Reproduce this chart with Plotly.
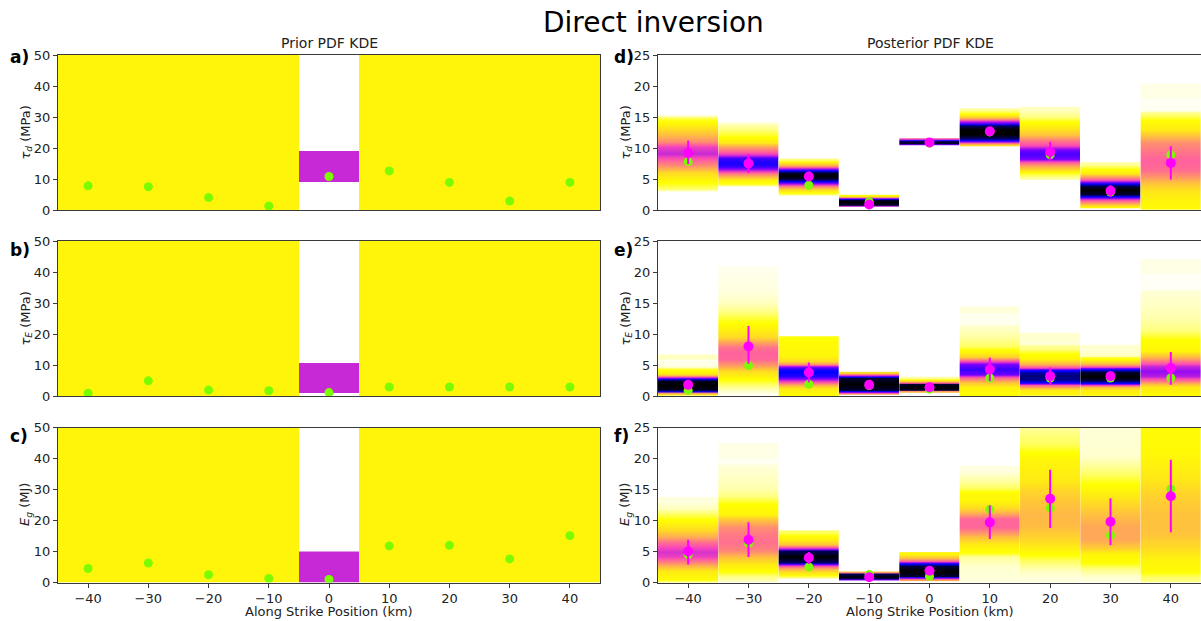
import numpy as np
import plotly.graph_objects as go

# ---------------- data ----------------
positions = [-40, -30, -20, -10, 0, 10, 20, 30, 40]
x_tick_vals = [-40, -30, -20, -10, 0, 10, 20, 30, 40]
left_y_ticks = [0, 10, 20, 30, 40, 50]
right_y_ticks = [0, 5, 10, 15, 20, 25]

# true values (green)
tau_d_true = [7.8, 7.5, 4.0, 1.3, 10.8, 12.6, 8.9, 2.9, 8.9]
tau_E_true = [0.9, 4.9, 1.9, 1.7, 1.1, 2.9, 2.9, 2.9, 2.9]
E_g_true = [4.5, 6.3, 2.5, 1.3, 1.0, 11.8, 12.0, 7.6, 15.1]

# posterior estimates (magenta) and their intervals
tau_d_est = [9.2, 7.5, 5.4, 0.9, 10.9, 12.7, 9.35, 3.1, 7.6]
tau_d_lo = [7.4, 6.0, 4.8, 0.7, 10.7, 12.1, 7.9, 2.1, 4.9]
tau_d_hi = [11.2, 9.0, 6.2, 1.1, 11.1, 13.3, 11.0, 4.0, 10.3]

tau_E_est = [1.8, 8.0, 3.8, 1.8, 1.4, 4.3, 3.2, 3.2, 4.5]
tau_E_lo = [1.4, 5.2, 2.2, 1.6, 1.2, 2.4, 1.8, 2.4, 1.8]
tau_E_hi = [2.2, 11.3, 5.4, 2.0, 1.6, 6.2, 4.6, 4.0, 7.1]

E_g_est = [5.0, 6.9, 4.0, 0.85, 1.9, 9.7, 13.5, 9.8, 13.9]
E_g_lo = [2.9, 4.1, 3.0, 0.7, 1.7, 7.0, 8.8, 6.0, 8.1]
E_g_hi = [6.9, 9.7, 4.9, 1.0, 2.1, 12.4, 18.2, 13.6, 19.8]

# prior PDF (uniform ranges) per position and density level
prior_tau_d_lo = [0, 0, 0, 0, 9.1, 0, 0, 0, 0]
prior_tau_d_hi = [50, 50, 50, 50, 19.1, 50, 50, 50, 50]
prior_tau_E_lo = [0, 0, 0, 0, 0.9, 0, 0, 0, 0]
prior_tau_E_hi = [50, 50, 50, 50, 10.8, 50, 50, 50, 50]
prior_E_g_lo = [0, 0, 0, 0, 0.0, 0, 0, 0, 0]
prior_E_g_hi = [50, 50, 50, 50, 10.0, 50, 50, 50, 50]
prior_level = [0.1, 0.1, 0.1, 0.1, 0.5, 0.1, 0.1, 0.1, 0.1]

# posterior KDE profiles: per position, (value, density level)
post_tau_d = [
    [(3.1, 0.02), (3.3, 0.04), (4.5, 0.08), (6.0, 0.15), (7.2, 0.3), (8.3, 0.42), (9.2, 0.5), (10.2, 0.45),
     (11.0, 0.3), (12.0, 0.22), (13.0, 0.15), (14.0, 0.1), (14.8, 0.06), (15.1, 0.03), (15.2, 0.02)],
    [(3.9, 0.03), (4.2, 0.06), (5.0, 0.12), (5.8, 0.3), (6.4, 0.5), (7.0, 0.68), (7.6, 0.72), (8.3, 0.68),
     (8.9, 0.5), (9.5, 0.38), (10.3, 0.25), (11.0, 0.12), (12.0, 0.07), (13.0, 0.04), (14.0, 0.02), (14.1, 0.01)],
    [(2.5, 0.04), (2.8, 0.08), (3.3, 0.15), (3.8, 0.3), (4.3, 0.55), (4.7, 0.8), (5.0, 0.95), (5.5, 1.0),
     (6.0, 0.95), (6.4, 0.75), (6.8, 0.45), (7.2, 0.25), (7.6, 0.12), (8.0, 0.06), (8.2, 0.04)],
    [(0.5, 0.2), (0.6, 0.5), (0.8, 0.95), (1.3, 1.0), (1.7, 0.95), (1.9, 0.5), (2.1, 0.2), (2.3, 0.1), (2.4, 0.08)],
    [(10.55, 0.6), (10.65, 0.95), (11.15, 0.95), (11.35, 0.5), (11.5, 0.4)],
    [(10.3, 0.06), (10.5, 0.12), (10.8, 0.3), (11.1, 0.6), (11.5, 0.9), (12.2, 1.0), (13.0, 1.0), (13.6, 0.9),
     (14.0, 0.65), (14.4, 0.45), (14.8, 0.25), (15.3, 0.12), (15.8, 0.06), (16.2, 0.03)],
    [(5.2, 0.03), (5.8, 0.06), (6.4, 0.12), (7.1, 0.25), (7.7, 0.42), (8.3, 0.6), (9.0, 0.66), (9.7, 0.6),
     (10.3, 0.45), (11.1, 0.35), (12.2, 0.2), (13.3, 0.12), (14.2, 0.08), (15.0, 0.04), (16.1, 0.02)],
    [(0.4, 0.08), (0.8, 0.15), (1.2, 0.3), (1.7, 0.45), (2.2, 0.75), (2.6, 0.95), (3.2, 1.0), (3.8, 0.95),
     (4.3, 0.72), (4.8, 0.45), (5.3, 0.3), (6.0, 0.12), (6.8, 0.07), (7.4, 0.03)],
    [(0.0, 0.09), (1.5, 0.1), (3.2, 0.13), (4.5, 0.2), (5.5, 0.3), (6.5, 0.37), (8.0, 0.39), (9.5, 0.35),
     (10.8, 0.3), (12.0, 0.2), (13.0, 0.12), (14.2, 0.09), (15.2, 0.05), (15.9, 0.03), (16.1, 0.005),
     (18.0, 0.003), (18.2, 0.008), (20.4, 0.008), (20.5, 0.0)],
]

post_tau_E = [
    [(0.2, 0.1), (0.5, 0.3), (0.8, 0.7), (1.1, 0.97), (1.8, 1.0), (2.5, 0.97), (2.8, 0.7), (3.1, 0.4),
     (3.5, 0.15), (4.0, 0.09), (4.5, 0.06), (4.7, 0.01), (5.9, 0.005), (6.1, 0.02), (6.7, 0.02), (6.8, 0.0)],
    [(0.3, 0.005), (1.0, 0.02), (1.9, 0.05), (3.0, 0.09), (4.1, 0.15), (5.0, 0.28), (6.0, 0.38), (7.0, 0.39),
     (8.0, 0.35), (8.8, 0.25), (9.6, 0.15), (11.0, 0.1), (12.2, 0.07), (13.5, 0.04), (15.0, 0.02),
     (17.0, 0.01), (21.0, 0.005), (21.1, 0.0)],
    [(0.3, 0.09), (1.2, 0.12), (1.7, 0.22), (2.2, 0.4), (2.7, 0.55), (3.2, 0.7), (3.8, 0.75), (4.4, 0.72),
     (4.8, 0.55), (5.2, 0.3), (5.6, 0.15), (6.5, 0.1), (8.5, 0.09), (9.5, 0.08), (9.6, 0.07)],
    [(0.4, 0.25), (0.7, 0.6), (1.0, 0.95), (2.0, 1.0), (3.0, 0.95), (3.3, 0.6), (3.6, 0.3), (3.8, 0.15)],
    [(0.6, 0.12), (0.8, 0.3), (1.0, 0.95), (1.5, 1.0), (2.0, 0.95), (2.2, 0.4), (2.5, 0.15), (2.8, 0.06), (3.0, 0.03)],
    [(0.3, 0.09), (1.5, 0.1), (2.3, 0.2), (3.0, 0.4), (3.6, 0.62), (4.4, 0.68), (5.2, 0.6), (5.7, 0.38),
     (6.3, 0.18), (7.0, 0.1), (8.0, 0.05), (9.5, 0.03), (10.6, 0.02), (11.4, 0.015), (11.6, 0.005),
     (13.4, 0.005), (13.6, 0.012), (14.5, 0.01), (14.6, 0.0)],
    [(0.3, 0.1), (1.0, 0.12), (1.4, 0.22), (1.8, 0.4), (2.2, 0.7), (2.6, 0.85), (3.2, 0.88), (3.8, 0.85),
     (4.2, 0.7), (4.6, 0.45), (5.2, 0.22), (6.0, 0.1), (6.8, 0.08), (7.7, 0.04), (8.3, 0.03), (8.5, 0.01),
     (9.0, 0.015), (9.8, 0.015)],
    [(0.3, 0.1), (1.0, 0.12), (1.4, 0.22), (1.8, 0.45), (2.2, 0.75), (2.6, 0.95), (3.2, 1.0), (3.9, 0.95),
     (4.3, 0.7), (4.7, 0.45), (5.2, 0.22), (5.8, 0.1), (6.3, 0.06), (6.5, 0.02), (7.2, 0.015), (7.9, 0.015)],
    [(0.3, 0.09), (1.4, 0.12), (1.9, 0.2), (2.5, 0.38), (3.2, 0.52), (4.0, 0.56), (4.8, 0.5), (5.5, 0.38),
     (6.3, 0.22), (7.3, 0.1), (9.0, 0.08), (10.6, 0.04), (12.7, 0.025), (15.0, 0.018), (17.1, 0.012),
     (17.3, 0.003), (19.7, 0.003), (19.9, 0.008), (22.1, 0.008), (22.2, 0.0)],
]

post_E_g = [
    [(0.2, 0.05), (0.6, 0.09), (1.9, 0.12), (2.7, 0.22), (3.5, 0.35), (4.2, 0.45), (5.0, 0.48), (5.8, 0.44),
     (6.5, 0.36), (7.3, 0.25), (8.5, 0.15), (10.0, 0.09), (11.0, 0.05), (12.0, 0.02), (13.2, 0.01)],
    [(0.3, 0.02), (1.1, 0.04), (1.9, 0.08), (3.0, 0.12), (4.1, 0.2), (5.2, 0.32), (6.5, 0.36), (7.8, 0.34),
     (8.9, 0.3), (10.0, 0.2), (11.1, 0.1), (12.7, 0.08), (14.0, 0.04), (15.3, 0.025), (17.0, 0.018),
     (19.0, 0.012), (19.2, 0.004), (20.1, 0.004), (20.3, 0.008), (22.5, 0.008), (22.6, 0.0)],
    [(0.9, 0.05), (1.3, 0.1), (1.8, 0.15), (2.3, 0.25), (2.7, 0.45), (3.0, 0.7), (3.3, 0.9), (4.2, 1.0),
     (5.1, 0.9), (5.4, 0.6), (5.8, 0.35), (6.2, 0.2), (6.8, 0.12), (7.5, 0.09), (8.1, 0.05)],
    [(0.4, 0.25), (0.6, 0.9), (1.0, 1.0), (1.4, 0.9), (1.55, 0.35), (1.7, 0.2)],
    [(0.3, 0.12), (0.6, 0.35), (0.9, 0.7), (1.1, 0.95), (1.9, 1.0), (2.7, 0.95), (3.1, 0.7), (3.5, 0.4),
     (4.0, 0.22), (4.6, 0.1)],
    [(0.3, 0.01), (2.5, 0.015), (4.1, 0.03), (4.9, 0.08), (6.2, 0.12), (7.3, 0.2), (8.1, 0.3), (9.0, 0.38),
     (10.2, 0.38), (11.4, 0.22), (12.1, 0.15), (13.2, 0.1), (14.5, 0.09), (15.3, 0.05), (16.4, 0.03), (18.0, 0.01)],
    [(0.3, 0.01), (1.0, 0.012), (2.0, 0.02), (3.6, 0.05), (5.2, 0.1), (6.8, 0.15), (9.0, 0.21), (11.0, 0.22),
     (12.5, 0.2), (14.3, 0.17), (16.4, 0.12), (19.6, 0.1), (21.0, 0.08), (22.4, 0.05), (24.0, 0.04), (25.0, 0.03)],
    [(0.3, 0.012), (1.0, 0.015), (2.2, 0.04), (3.3, 0.08), (4.6, 0.1), (5.7, 0.18), (7.0, 0.25), (9.0, 0.25),
     (11.1, 0.2), (13.2, 0.14), (15.3, 0.09), (17.5, 0.05), (19.0, 0.03), (20.5, 0.015), (25.0, 0.012)],
    [(0.3, 0.04), (1.0, 0.05), (2.0, 0.09), (3.6, 0.1), (5.7, 0.15), (8.0, 0.2), (11.0, 0.2), (13.8, 0.17),
     (16.4, 0.13), (19.6, 0.1), (22.0, 0.09), (25.0, 0.09)],
]

# ---------------- styling ----------------
FONT = "DejaVu Sans"
GREEN = "rgb(124,252,0)"
MAGENTA = "rgb(255,0,255)"
SPINE = "#3a3a3a"
COL_W = 10.0  # along-strike width of each column (km)


def gnuplot2_r(level):
    x = 1.0 - level
    r = min(max(x / 0.32 - 0.78125, 0), 1)
    g = min(max(2 * x - 0.84, 0), 1)
    if x < 0.25:
        b = 4 * x
    elif x < 0.92:
        b = -2 * x + 1.84
    else:
        b = x / 0.08 - 11.5
    b = min(max(b, 0), 1)
    return f"rgb({round(r*255)},{round(g*255)},{round(b*255)})"


stops = sorted(set([round(v, 4) for v in np.linspace(0, 1, 101)] + [0.08]))
colorscale = [[s, gnuplot2_r(s)] for s in stops]

W, H = 1201, 621
left_dom = [58 / W, 600 / W]
right_dom = [658 / W, 1.0]
row_dom = [
    [1 - 210 / H, 1 - 55 / H],
    [1 - 396 / H, 1 - 241 / H],
    [1 - 582.5 / H, 1 - 427.5 / H],
]

fig = go.Figure()

prior_sets = [
    (prior_tau_d_lo, prior_tau_d_hi, tau_d_true),
    (prior_tau_E_lo, prior_tau_E_hi, tau_E_true),
    (prior_E_g_lo, prior_E_g_hi, E_g_true),
]
post_sets = [
    (post_tau_d, tau_d_true, tau_d_est, tau_d_lo, tau_d_hi),
    (post_tau_E, tau_E_true, tau_E_est, tau_E_lo, tau_E_hi),
    (post_E_g, E_g_true, E_g_est, E_g_lo, E_g_hi),
]

x_edges = [p - COL_W / 2 for p in positions] + [positions[-1] + COL_W / 2]

# left column: prior
for i, (lo, hi, true) in enumerate(prior_sets):
    ax = "" if i == 0 else str(i + 1)
    y_edges = sorted(set(lo + hi))
    z = []
    for k in range(len(y_edges) - 1):
        mid = 0.5 * (y_edges[k] + y_edges[k + 1])
        z.append([prior_level[j] if lo[j] <= mid <= hi[j] else None for j in range(len(positions))])
    fig.add_trace(go.Heatmap(x=x_edges, y=y_edges, z=z, colorscale=colorscale, zmin=0, zmax=1,
                             showscale=False, hoverinfo="skip", xaxis="x" + ax, yaxis="y" + ax))
    fig.add_trace(go.Scatter(x=positions, y=true, mode="markers",
                             marker=dict(color=GREEN, size=9, line=dict(width=0)),
                             showlegend=False, hoverinfo="skip", xaxis="x" + ax, yaxis="y" + ax))

# right column: posterior
for i, (profiles, true, est, elo, ehi) in enumerate(post_sets):
    ax = str(i + 4)
    for p, prof in zip(positions, profiles):
        ys = [v for v, _ in prof]
        zs = [[lv] for _, lv in prof]
        fig.add_trace(go.Heatmap(x=[p - COL_W / 2, p + COL_W / 2], y=ys, z=zs, zsmooth="best",
                                 colorscale=colorscale, zmin=0, zmax=1, showscale=False,
                                 hoverinfo="skip", xaxis="x" + ax, yaxis="y" + ax))
    fig.add_trace(go.Scatter(x=positions, y=true, mode="markers",
                             marker=dict(color=GREEN, size=9, line=dict(width=0)),
                             showlegend=False, hoverinfo="skip", xaxis="x" + ax, yaxis="y" + ax))
    fig.add_trace(go.Scatter(x=positions, y=est, mode="markers",
                             marker=dict(color=MAGENTA, size=10, line=dict(width=0)),
                             error_y=dict(type="data", symmetric=False,
                                          array=[h - e for h, e in zip(ehi, est)],
                                          arrayminus=[e - l for e, l in zip(est, elo)],
                                          color=MAGENTA, thickness=2, width=0),
                             showlegend=False, hoverinfo="skip", xaxis="x" + ax, yaxis="y" + ax))

tickfont = dict(family=FONT, size=13, color="#222")
layout = dict(
    width=W, height=H, margin=dict(l=0, r=0, t=0, b=0, autoexpand=False),
    paper_bgcolor="white", plot_bgcolor="white", showlegend=False,
    font=dict(family=FONT, color="#222"),
)

for n in range(1, 7):
    key = "" if n == 1 else str(n)
    col_left = n <= 3
    row = (n - 1) % 3
    bottom = row == 2
    layout["xaxis" + key] = dict(
        domain=left_dom if col_left else right_dom, anchor="y" + key, range=[-45, 45],
        tickvals=x_tick_vals if bottom else [], showticklabels=bottom,
        ticks="outside" if bottom else "", ticklen=4, tickcolor=SPINE, tickfont=tickfont,
        showgrid=False, zeroline=False, showline=True, linecolor=SPINE, linewidth=1, mirror=True,
        automargin=False,
    )
    layout["yaxis" + key] = dict(
        domain=row_dom[row], anchor="x" + key,
        range=[0, 50] if col_left else [0, 25],
        tickvals=left_y_ticks if col_left else right_y_ticks,
        ticks="outside", ticklen=4, tickcolor=SPINE, tickfont=tickfont,
        showgrid=False, zeroline=False, showline=True, linecolor=SPINE, linewidth=1,
        mirror=True if col_left else False, automargin=False,
    )

annotations = []
annotations.append(dict(text="Direct inversion", x=653 / W, y=1 - 22 / H, xref="paper", yref="paper",
                        showarrow=False, font=dict(family=FONT, size=28, color="black"),
                        xanchor="center", yanchor="middle"))
annotations.append(dict(text="Prior PDF KDE", x=329 / W, y=1 - 43 / H, xref="paper", yref="paper",
                        showarrow=False, font=dict(family=FONT, size=14, color="#222"),
                        xanchor="center", yanchor="middle"))
annotations.append(dict(text="Posterior PDF KDE", x=930 / W, y=1 - 43 / H, xref="paper", yref="paper",
                        showarrow=False, font=dict(family=FONT, size=14, color="#222"),
                        xanchor="center", yanchor="middle"))
for xc in (329, 930):
    annotations.append(dict(text="Along Strike Position (km)", x=xc / W, y=1 - 611 / H,
                            xref="paper", yref="paper", showarrow=False,
                            font=dict(family=FONT, size=13, color="#222"),
                            xanchor="center", yanchor="middle"))

labels_left = ["a)", "b)", "c)"]
labels_right = ["d)", "e)", "f)"]
label_y = [57, 250, 436]
ytitles = ["<i>τ<sub>d</sub></i> (MPa)", "<i>τ<sub>E</sub></i> (MPa)", "<i>E<sub>g</sub></i> (MJ)"]
for r in range(3):
    annotations.append(dict(text="<b>" + labels_left[r] + "</b>", x=8 / W, y=1 - label_y[r] / H,
                            xref="paper", yref="paper", showarrow=False,
                            font=dict(family=FONT, size=17, color="black"), xanchor="left", yanchor="middle"))
    annotations.append(dict(text="<b>" + labels_right[r] + "</b>", x=612 / W, y=1 - label_y[r] / H,
                            xref="paper", yref="paper", showarrow=False,
                            font=dict(family=FONT, size=17, color="black"), xanchor="left", yanchor="middle"))
    yc = 0.5 * (row_dom[r][0] + row_dom[r][1])
    for xc in (26, 626):
        annotations.append(dict(text=ytitles[r], x=xc / W, y=yc, xref="paper", yref="paper",
                                showarrow=False, textangle=-90,
                                font=dict(family=FONT, size=13, color="#222"),
                                xanchor="center", yanchor="middle"))
layout["annotations"] = annotations

fig.update_layout(**layout)
fig.write_html("out.html")
